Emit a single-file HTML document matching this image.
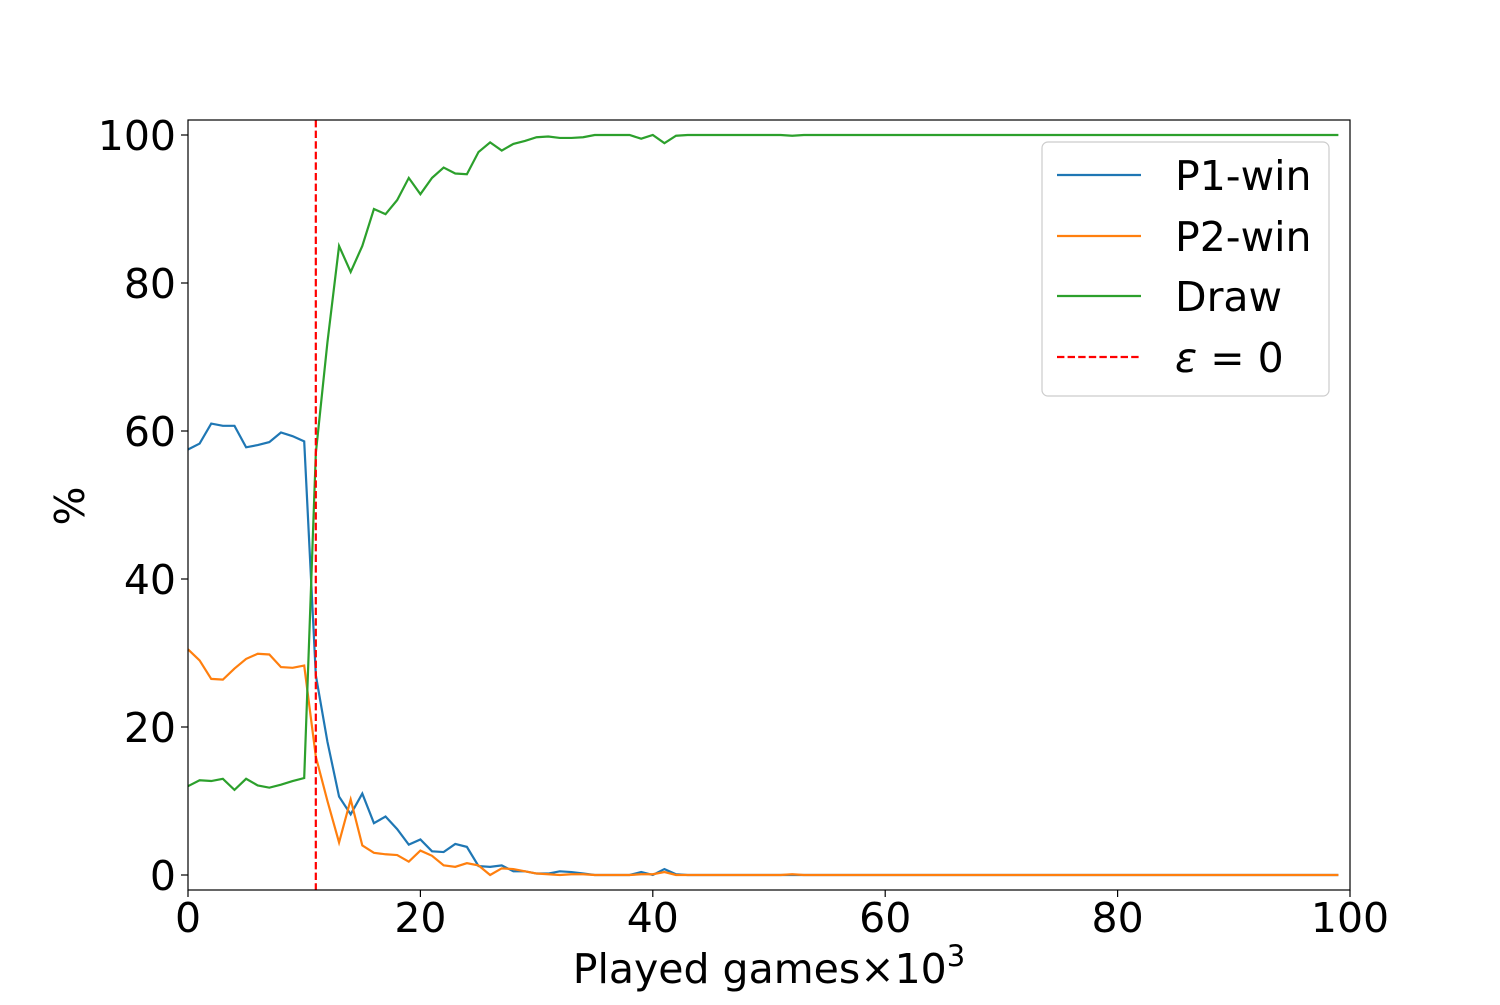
<!DOCTYPE html>
<html><head><meta charset="utf-8"><style>
body{margin:0;background:#fff}
svg text{font-family:"DejaVu Sans","Liberation Sans",sans-serif;fill:#000}
</style></head><body>
<svg width="1500" height="1000" xmlns="http://www.w3.org/2000/svg">
<g id="plot"></g>
</svg>
<script>
const xs=[];for(let i=0;i<100;i++)xs.push(i);
const p1=[57.5,58.3,61,60.7,60.7,57.8,58.1,58.5,59.8,59.3,58.6,27,18,10.6,8.2,11,7,7.9,6.2,4.1,4.8,3.2,3.1,4.2,3.8,1.2,1.1,1.3,0.5,0.5,0.2,0.2,0.5,0.4,0.2,0,0,0,0,0.4,0,0.8,0.1,0,0,0,0,0,0,0,0,0,0,0,0,0,0,0,0,0,0,0,0,0,0,0,0,0,0,0,0,0,0,0,0,0,0,0,0,0,0,0,0,0,0,0,0,0,0,0,0,0,0,0,0,0,0,0,0,0];
const p2=[30.5,29,26.5,26.4,27.9,29.2,29.9,29.8,28.1,28,28.3,16,10,4.4,10.2,4,3,2.8,2.7,1.8,3.3,2.6,1.3,1.1,1.6,1.3,0,0.9,0.8,0.5,0.2,0.1,0,0.1,0.1,0,0,0,0,0.1,0.1,0.4,0,0,0,0,0,0,0,0,0,0,0.1,0,0,0,0,0,0,0,0,0,0,0,0,0,0,0,0,0,0,0,0,0,0,0,0,0,0,0,0,0,0,0,0,0,0,0,0,0,0,0,0,0,0,0,0,0,0,0];
const draw=[12,12.8,12.7,13,11.5,13,12.1,11.8,12.2,12.7,13.1,57,72,85,81.5,85,90,89.3,91.2,94.2,92,94.2,95.6,94.8,94.7,97.7,99,97.9,98.8,99.2,99.7,99.8,99.6,99.6,99.7,100,100,100,100,99.5,100,98.9,99.9,100,100,100,100,100,100,100,100,100,99.9,100,100,100,100,100,100,100,100,100,100,100,100,100,100,100,100,100,100,100,100,100,100,100,100,100,100,100,100,100,100,100,100,100,100,100,100,100,100,100,100,100,100,100,100,100,100,100];
const xTicks=[0,20,40,60,80,100];
const yTicks=[0,20,40,60,80,100];
const epsX=11;
const L=188,R=1350,T=120,B=890;
const X=v=>L+(v-0)/100*(R-L);
const Y=v=>875-v*7.4;
const NS='http://www.w3.org/2000/svg';
const g=document.getElementById('plot');
function mk(t,a){const e=document.createElementNS(NS,t);for(const k in a)e.setAttribute(k,a[k]);g.appendChild(e);return e;}
const series=[[p1,'#1f77b4','p1-win-line'],[p2,'#ff7f0e','p2-win-line'],[draw,'#2ca02c','draw-line']];
series.forEach(s=>{
  const e=mk('polyline',{points:xs.map((x,i)=>X(x)+','+Y(s[0][i])).join(' '),fill:'none',stroke:s[1],'stroke-width':2.2});
  
  
});
const ep=mk('line',{x1:X(epsX),x2:X(epsX),y1:T,y2:B,stroke:'#ff0000','stroke-width':2.2,'stroke-dasharray':'7.4,3.2'});


const fr=mk('rect',{x:L,y:T,width:R-L,height:B-T,fill:'none',stroke:'#000','stroke-width':1.2});


xTicks.forEach(v=>{
  mk('line',{x1:X(v),x2:X(v),y1:B,y2:B+7,stroke:'#000','stroke-width':1.2});
  const t=mk('text',{x:X(v),y:B+42,'font-size':41,'text-anchor':'middle'});t.textContent=v;
  
  
});
yTicks.forEach(v=>{
  mk('line',{x1:L-7,x2:L,y1:Y(v),y2:Y(v),stroke:'#000','stroke-width':1.2});
  const t=mk('text',{x:L-12,y:Y(v)+15,'font-size':41,'text-anchor':'end'});t.textContent=v;
  
  
});
</script>
<svg width="1500" height="1000" style="position:absolute;left:0;top:0" xmlns="http://www.w3.org/2000/svg">
<text x="769" y="983" font-size="41" text-anchor="middle">Played games×10<tspan font-size="29" dy="-17">3</tspan></text>
<text x="0" y="0" font-size="41" text-anchor="middle" transform="translate(84,506) rotate(-90)">%</text>
<g>
<rect x="1042" y="142" width="287" height="254" rx="6" fill="#fff" fill-opacity="0.8" stroke="#ccc" stroke-width="1.2"/>
<line x1="1057" x2="1141" y1="175" y2="175" stroke="#1f77b4" stroke-width="2.2"/>
<text x="1175" y="190" font-size="41">P1-win</text>
<line x1="1057" x2="1141" y1="236" y2="236" stroke="#ff7f0e" stroke-width="2.2"/>
<text x="1175" y="251" font-size="41">P2-win</text>
<line x1="1057" x2="1141" y1="296" y2="296" stroke="#2ca02c" stroke-width="2.2"/>
<text x="1175" y="311" font-size="41">Draw</text>
<line x1="1057" x2="1141" y1="357" y2="357" stroke="#ff0000" stroke-width="2.2" stroke-dasharray="7.4,3.2"/>
<text x="1175" y="372" font-size="41"><tspan font-style="italic">ε</tspan> = 0</text>
</g>
</svg>
</body></html>
